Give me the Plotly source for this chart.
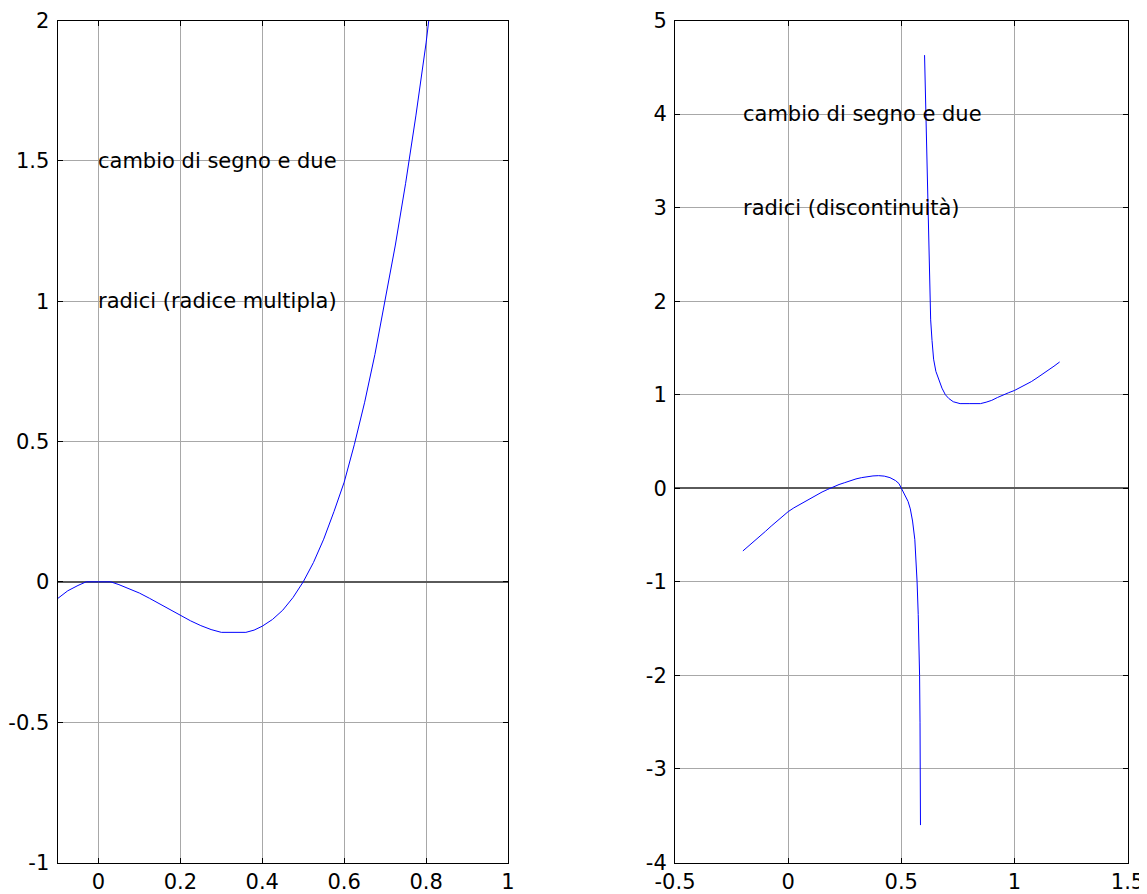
import plotly.graph_objects as go

# ---- Left panel data ----
left_x = [-0.1, -0.075, -0.05, -0.03, 0.0, 0.03, 0.05, 0.075, 0.1, 0.125, 0.15, 0.175,
          0.2, 0.225, 0.25, 0.275, 0.3, 0.36, 0.38, 0.4, 0.425, 0.45, 0.475, 0.5,
          0.525, 0.55, 0.575, 0.6, 0.625, 0.65, 0.675, 0.7, 0.725, 0.75, 0.775, 0.8,
          0.825, 0.85]
left_y = [-0.06, -0.032, -0.013, 0.0, 0.0, 0.0, -0.01, -0.024, -0.04, -0.059, -0.079, -0.099,
          -0.12, -0.139, -0.156, -0.17, -0.18, -0.18, -0.172, -0.158, -0.134, -0.101, -0.056, 0.0,
          0.069, 0.152, 0.25, 0.355, 0.49, 0.64, 0.81, 1.0, 1.2, 1.42, 1.66, 1.92,
          2.21, 2.53]

# ---- Right panel data (two branches) ----
right_low_x = [-0.2, -0.175, -0.15, -0.125, -0.1, -0.075, -0.05, -0.025, 0.0, 0.025, 0.05,
               0.075, 0.1, 0.125, 0.15, 0.175, 0.2, 0.225, 0.25, 0.275, 0.3, 0.325, 0.35,
               0.375, 0.4, 0.425, 0.45, 0.475, 0.49, 0.5, 0.51, 0.52, 0.53, 0.54, 0.55,
               0.56, 0.565, 0.57, 0.575, 0.578, 0.581, 0.583, 0.584, 0.585]
right_low_y = [-0.67, -0.62, -0.57, -0.515, -0.46, -0.405, -0.35, -0.298, -0.25, -0.21, -0.175,
               -0.14, -0.105, -0.072, -0.04, -0.012, 0.015, 0.04, 0.06, 0.082, 0.1, 0.114, 0.125,
               0.132, 0.135, 0.13, 0.114, 0.082, 0.05, 0.0, -0.04, -0.085, -0.14, -0.22, -0.35,
               -0.55, -0.75, -1.0, -1.35, -1.6, -2.0, -2.5, -3.0, -3.6]
right_up_x = [0.603, 0.609, 0.616, 0.62, 0.626, 0.63, 0.636, 0.643, 0.653, 0.665, 0.68, 0.695,
              0.71, 0.73, 0.76, 0.8, 0.85, 0.875, 0.9, 0.925, 0.95, 0.975, 1.0, 1.025, 1.05,
              1.075, 1.1, 1.125, 1.15, 1.175, 1.2]
right_up_y = [4.63, 4.0, 3.0, 2.5, 2.0, 1.8, 1.58, 1.38, 1.25, 1.16, 1.07, 1.0,
              0.96, 0.925, 0.905, 0.905, 0.905, 0.92, 0.94, 0.97, 1.0, 1.022, 1.045, 1.075, 1.105,
              1.14, 1.18, 1.22, 1.265, 1.305, 1.35]

# ---- Tick labels ----
left_xticks = [0, 0.2, 0.4, 0.6, 0.8, 1]
left_xtext = ["0", "0.2", "0.4", "0.6", "0.8", "1"]
left_yticks = [-1, -0.5, 0, 0.5, 1, 1.5, 2]
left_ytext = ["-1", "-0.5", "0", "0.5", "1", "1.5", "2"]
right_xticks = [-0.5, 0, 0.5, 1, 1.5]
right_xtext = ["-0.5", "0", "0.5", "1", "1.5"]
right_yticks = [-4, -3, -2, -1, 0, 1, 2, 3, 4, 5]
right_ytext = ["-4", "-3", "-2", "-1", "0", "1", "2", "3", "4", "5"]

# ---- Annotations ----
left_notes = [(0.0, 1.5, "cambio di segno e due"), (0.0, 1.0, "radici (radice multipla)")]
right_notes = [(-0.2, 4.0, "cambio di segno e due"), (-0.2, 3.0, "radici (discontinuità)")]

FONT = "DejaVu Sans, Liberation Sans, Arial, sans-serif"
FS = 21
# page body has an 8px margin, so the figure is sized to fill the rest of the window
W, H = 1139, 886
OFF = 8

fig = go.Figure()
line = dict(color="#0000ff", width=1)
fig.add_trace(go.Scatter(x=left_x, y=left_y, mode="lines", line=line, xaxis="x", yaxis="y"))
fig.add_trace(go.Scatter(x=right_low_x, y=right_low_y, mode="lines", line=line, xaxis="x2", yaxis="y2"))
fig.add_trace(go.Scatter(x=right_up_x, y=right_up_y, mode="lines", line=line, xaxis="x2", yaxis="y2"))

common = dict(showline=True, linecolor="black", linewidth=1, mirror="allticks",
              ticks="inside", ticklen=5, tickcolor="black", tickwidth=1,
              showgrid=True, gridcolor="#a8a8a8", gridwidth=1, automargin=False,
              tickfont=dict(family=FONT, size=FS, color="black"), fixedrange=True)


def xd(a, b):
    return [(a - OFF) / W, (b - OFF) / W]


ydom = [1 - (862.5 - OFF) / H, 1 - (20.5 - OFF) / H]
fig.update_layout(
    width=W, height=H, margin=dict(l=0, r=0, t=0, b=0, autoexpand=False),
    paper_bgcolor="white", plot_bgcolor="white", showlegend=False,
    xaxis=dict(domain=xd(57.5, 508), range=[-0.1, 1], tickvals=left_xticks,
               ticktext=left_xtext, zeroline=False, anchor="y", ticklabelstandoff=0, **common),
    yaxis=dict(domain=ydom, range=[-1, 2], tickvals=left_yticks, ticktext=left_ytext,
               zeroline=True, zerolinecolor="#5a5a5a", zerolinewidth=2, anchor="x",
               ticklabelstandoff=3, **common),
    xaxis2=dict(domain=xd(675, 1127.5), range=[-0.5, 1.5], tickvals=right_xticks,
                ticktext=right_xtext, zeroline=False, anchor="y2", ticklabelstandoff=0, **common),
    yaxis2=dict(domain=ydom, range=[-4, 5], tickvals=right_yticks, ticktext=right_ytext,
                zeroline=True, zerolinecolor="#5a5a5a", zerolinewidth=2, anchor="x2",
                ticklabelstandoff=3, **common),
)

for xr, yr, notes in (("x", "y", left_notes), ("x2", "y2", right_notes)):
    for nx, ny, txt in notes:
        fig.add_annotation(x=nx, y=ny, xref=xr, yref=yr, text=txt, showarrow=False,
                           xanchor="left", yanchor="middle", xshift=-2,
                           font=dict(family=FONT, size=FS, color="black"))

fig.write_html("out.html")
